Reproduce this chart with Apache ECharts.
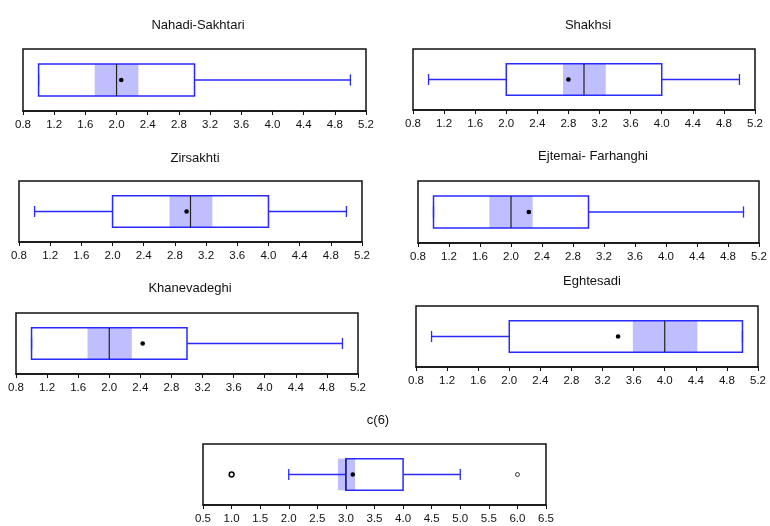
<!DOCTYPE html>
<html><head><meta charset="utf-8">
<script src="https://cdn.jsdelivr.net/npm/echarts@6/dist/echarts.min.js"></script>
<style>html,body{margin:0;padding:0;background:#fff}#c{width:770px;height:526px}</style>
</head><body><div id="c"></div>
<script>
// ---- data ----
const titles = ['Nahadi-Sakhtari','Shakhsi','Zirsakhti','Ejtemai- Farhanghi','Khanevadeghi','Eghtesadi','c(6)'];
// [lower whisker, Q1, median, Q3, upper whisker]
const fiveNum = [
  [1,1,2,3,5],
  [1,2,3,4,5],
  [1,2,3,4,5],
  [1,1,2,3,5],
  [1,1,2,3,5],
  [1,2,4,5,5],
  [2,3,3,4,5]
];
const notchLow  = [1.72,2.73,2.73,1.72,1.72,3.59,2.86];
const notchHigh = [2.28,3.28,3.28,2.28,2.29,4.42,3.16];
const means     = [2.06,2.80,2.95,2.23,2.43,3.40,3.12];
const outliers  = [[],[],[],[],[],[],[1,6]];
const axisMin   = [0.8,0.8,0.8,0.8,0.8,0.8,0.5];
const axisMax   = [5.2,5.2,5.2,5.2,5.2,5.2,6.5];
const axisStep  = [0.4,0.4,0.4,0.4,0.4,0.4,0.5];

// ---- layout (pixels) ----
const grids = [
  {left:23, top:49, width:343, height:62},
  {left:413,top:49, width:342, height:61},
  {left:19, top:181,width:343, height:61},
  {left:418,top:181,width:343, height:62},
  {left:16, top:313,width:342, height:61},
  {left:416,top:306,width:342, height:61},
  {left:203,top:444,width:343, height:61}
];
const titlePos = [[193,22],[583,22],[190,155],[588,153],[185,285],[587,278],[373,417]];

const BLUE = '#2a2aff', SHADE = '#bfbfff';

const chart = echarts.init(document.getElementById('c'), null, {renderer:'canvas'});
const option = {
  animation:false,
  backgroundColor:'#fff',
  title: titles.map((t,i)=>({text:t,left:titlePos[i][0],top:titlePos[i][1]-8,textAlign:'center',
    textStyle:{fontFamily:'Liberation Sans, Arial, sans-serif',fontSize:13,fontWeight:'normal',color:'#111'}})),
  grid: grids.map(g=>Object.assign({show:true,borderColor:'#111',borderWidth:1.5,backgroundColor:'#fff'},g)),
  xAxis: grids.map((g,i)=>({type:'value',gridIndex:i,min:axisMin[i],max:axisMax[i],interval:axisStep[i],
    axisLine:{show:true,lineStyle:{color:'#111',width:1.5}},
    axisTick:{show:true,length:4,lineStyle:{color:'#111'}},
    splitLine:{show:false},
    axisLabel:{fontSize:11.5,color:'#111',margin:8,fontFamily:'Liberation Sans, Arial, sans-serif',
      formatter:v=>v.toFixed(1),showMinLabel:true,showMaxLabel:true,hideOverlap:false}})),
  yAxis: grids.map((g,i)=>({type:'value',gridIndex:i,min:0,max:1,show:false})),
  series: titles.map((t,i)=>({
    type:'custom',xAxisIndex:i,yAxisIndex:i,
    data:[[fiveNum[i][0],fiveNum[i][1],fiveNum[i][2],fiveNum[i][3],fiveNum[i][4],notchLow[i],notchHigh[i],means[i]]],
    encode:{x:[0,1,2,3,4,5,6,7]},
    clip:false,
    renderItem:(params,api)=>{
      const v = k=>api.value(k);
      const P = (x,y)=>api.coord([x,y]);
      const yT = 0.76, yB = 0.24, yM = 0.5, cT = 0.59, cB = 0.41;
      const ch = [];
      const q1 = P(v(1),yT), q3 = P(v(3),yB);
      ch.push({type:'rect',shape:{x:q1[0],y:q1[1],width:q3[0]-q1[0],height:q3[1]-q1[1]},style:{fill:'#fff'}});
      const n1 = P(v(5),yT), n2 = P(v(6),yB);
      ch.push({type:'rect',shape:{x:n1[0],y:n1[1],width:n2[0]-n1[0],height:n2[1]-n1[1]},style:{fill:SHADE}});
      const wl = P(v(0),yM), ql = P(v(1),yM), qh = P(v(3),yM), wh = P(v(4),yM);
      const ls = {stroke:BLUE,lineWidth:1.3};
      if (v(0) < v(1)) ch.push({type:'line',shape:{x1:wl[0],y1:wl[1],x2:ql[0],y2:ql[1]},style:ls});
      if (v(4) > v(3)) ch.push({type:'line',shape:{x1:qh[0],y1:qh[1],x2:wh[0],y2:wh[1]},style:ls});
      const c1a = P(v(0),cT), c1b = P(v(0),cB), c2a = P(v(4),cT), c2b = P(v(4),cB);
      ch.push({type:'line',shape:{x1:c1a[0],y1:c1a[1],x2:c1b[0],y2:c1b[1]},style:ls});
      ch.push({type:'line',shape:{x1:c2a[0],y1:c2a[1],x2:c2b[0],y2:c2b[1]},style:ls});
      ch.push({type:'rect',shape:{x:q1[0],y:q1[1],width:q3[0]-q1[0],height:q3[1]-q1[1]},style:{fill:'none',stroke:BLUE,lineWidth:1.5}});
      const m1 = P(v(2),yT), m2 = P(v(2),yB);
      ch.push({type:'line',shape:{x1:m1[0],y1:m1[1],x2:m2[0],y2:m2[1]},style:{stroke:'#222',lineWidth:1.2}});
      const mn = P(v(7),yM);
      ch.push({type:'circle',shape:{cx:mn[0],cy:mn[1],r:2.3},style:{fill:'#000'}});
      outliers[params.seriesIndex].forEach((o,k)=>{
        const p = P(o,yM);
        ch.push({type:'circle',shape:{cx:p[0],cy:p[1],r:k===0?2.4:2},style:{fill:'#fff',stroke:k===0?'#000':'#333',lineWidth:k===0?1.5:1}});
      });
      return {type:'group',children:ch};
    }
  }))
};
chart.setOption(option);
</script>
</body></html>
